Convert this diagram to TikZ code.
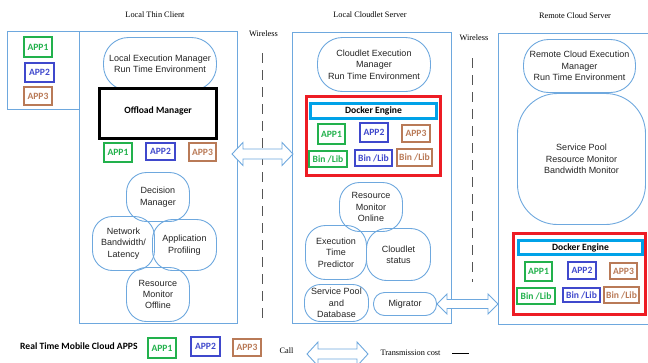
\documentclass[tikz,border=0pt]{standalone}
\usepackage{fontspec}
\setmainfont{Liberation Serif}
\newfontfamily\arialf{Liberation Sans}
\newfontfamily\calf{Carlito}
\definecolor{lblue}{RGB}{110,168,222}
\definecolor{agreen}{RGB}{34,177,76}
\definecolor{ablue}{RGB}{63,72,204}
\definecolor{abrown}{RGB}{185,122,87}
\definecolor{ared}{RGB}{237,28,36}
\definecolor{acyan}{RGB}{0,162,232}
\definecolor{txt}{RGB}{35,35,35}
\definecolor{dgray}{RGB}{85,85,85}
\begin{document}
\begin{tikzpicture}[x=1pt,y=-1pt,
  sz/.style 2 args={minimum width=#1pt, minimum height=#2pt},
  frame/.style={draw=lblue, line width=0.9pt},
  soft/.style={draw=lblue, line width=0.9pt, align=center, inner sep=1pt, text=txt,
               font=\arialf\fontsize{9}{11.4}\selectfont},
  appbox/.style={draw=#1, text=#1, line width=2pt, inner sep=0pt,
               font=\calf\bfseries\fontsize{9.6}{10}\selectfont},
  title/.style={font=\fontsize{8.3}{10}\selectfont, text=black, inner sep=0pt},
  wire/.style={draw=dgray, line width=1pt, dash pattern=on 10pt off 7pt},
  dbl/.style={draw=lblue, line width=0.9pt, fill=white, line join=miter},
  boldlbl/.style={font=\calf\bfseries\fontsize{9.6}{10}\selectfont, inner sep=0pt}
]
\useasboundingbox (0,0) rectangle (648,362);

% titles
\node[title] (t1) at (155,15) {Local Thin Client};
\node[title] (t2) at (370,15) {Local Cloudlet Server};
\node[title] (t3) at (575,16) {Remote Cloud Server};
\node[title] (w1) at (263.5,34) {Wireless};
\node[title] (w2) at (474,38) {Wireless};

% outer frames
\draw[frame] (7,31) rectangle (79,109);
\draw[frame] (79,31) rectangle (237,323);
\draw[frame] (292,32) rectangle (451,323);
\draw[frame] (652,33) -- (498,33) -- (498,324) -- (652,324);

% wireless dashed lines
\coordinate (d1a) at (262,53);
\coordinate (d1b) at (262,322);
\coordinate (d2a) at (472,58);
\coordinate (d2b) at (472,282);
\draw[wire] (d1a) -- (d1b);
\draw[wire] (d2a) -- (d2b);

% left small box apps
\node[appbox=agreen, sz={28}{20}] (la1) at (38,47) {APP1};
\node[appbox=ablue, sz={29}{19}] (la2) at (39.5,72.5) {APP2};
\node[appbox=abrown, sz={28}{18}] (la3) at (38,96) {APP3};

% local thin client
\node[soft, rounded corners=25pt, sz={113}{53}] (lem) at (160,64) {Local Execution Manager\\Run Time Environment};
\node[draw=black, line width=3pt, fill=white, sz={117}{50}, inner sep=0pt,
      font=\calf\bfseries\fontsize{9.6}{10}\selectfont] (off) at (158,113.5) {\raisebox{6pt}{Offload Manager}};
\node[appbox=agreen, sz={28}{19}] (ca1) at (118,152.5) {APP1};
\node[appbox=ablue, sz={29}{17}] (ca2) at (160.5,151.5) {APP2};
\node[appbox=abrown, sz={27}{18}] (ca3) at (202.5,152) {APP3};
\node[soft, rounded corners=20pt, sz={63}{49}] (dec) at (158,197) {Decision\\Manager};
\node[soft, rounded corners=20pt, sz={62}{54}] (net) at (123.5,243.5) {Network\\Bandwidth/\\Latency};
\node[soft, rounded corners=20pt, sz={64}{51}] (apf) at (184.5,245) {Application\\Profiling};
\node[soft, rounded corners=20pt, sz={63}{54}] (rmf) at (158,294.5) {Resource\\Monitor\\Offline};

% local cloudlet server
\node[soft, rounded corners=25pt, sz={113}{54}] (cem) at (374,64.5) {Cloudlet Execution\\Manager\\Run Time Environment};
\node[draw=ared, line width=3pt, sz={134}{79}, inner sep=0pt] (red1) at (373.5,136) {};
\node[draw=acyan, line width=3pt, sz={126}{15}, inner sep=0pt,
      font=\calf\bfseries\fontsize{9.6}{10}\selectfont] (dk1) at (373.5,111) {Docker Engine};
\node[appbox=agreen, sz={27}{20}] (ka1) at (331.5,134) {APP1};
\node[appbox=ablue, sz={28}{19}] (ka2) at (374,132.5) {APP2};
\node[appbox=abrown, sz={28}{17}] (ka3) at (416,133.5) {APP3};
\node[appbox=agreen, sz={38}{16}] (kb1) at (328,159) {Bin /Lib};
\node[appbox=ablue, sz={37}{16}] (kb2) at (373.5,158) {Bin /Lib};
\node[appbox=abrown, sz={35}{17}] (kb3) at (414.5,157.5) {Bin /Lib};
\node[soft, rounded corners=20pt, sz={63}{49}] (rmo) at (371,207) {Resource\\Monitor\\Online};
\node[soft, rounded corners=20pt, sz={61}{54}] (etp) at (336,252.5) {Execution\\Time\\Predictor};
\node[soft, rounded corners=20pt, sz={64}{52}] (cst) at (398.5,254.5) {Cloudlet\\status};
\node[soft, rounded corners=16pt, sz={64}{37}] (spd) at (336.5,303) {Service Pool\\and\\Database};
\node[soft, rounded corners=11pt, sz={63}{23}] (mig) at (405,304) {Migrator};

% remote cloud server
\node[soft, rounded corners=25pt, sz={112}{53}] (rcem) at (579.5,66) {Remote Cloud Execution\\Manager\\Run Time Environment};
\node[soft, rounded corners=40pt, sz={128}{131}] (spool) at (581.5,159) {Service Pool\\Resource Monitor\\Bandwidth Monitor};
\node[draw=ared, line width=3pt, sz={132}{81}, inner sep=0pt] (red2) at (579.5,274) {};
\node[draw=acyan, line width=3pt, sz={124}{14}, inner sep=0pt,
      font=\calf\bfseries\fontsize{9.6}{10}\selectfont] (dk2) at (580.5,247.5) {Docker Engine};
\node[appbox=agreen, sz={27}{19}] (ra1) at (538.5,271.5) {APP1};
\node[appbox=ablue, sz={28}{17}] (ra2) at (582,270.5) {APP2};
\node[appbox=abrown, sz={27}{16}] (ra3) at (623.5,271) {APP3};
\node[appbox=agreen, sz={38}{16}] (rb1) at (536,296) {Bin /Lib};
\node[appbox=ablue, sz={37}{14}] (rb2) at (581.5,295) {Bin /Lib};
\node[appbox=abrown, sz={35}{16}] (rb3) at (621.5,295) {Bin /Lib};

% double arrows
\coordinate (a1L) at (232,154);
\coordinate (a1R) at (293,154);
\draw[dbl] (a1L) -- ++(11,-11.5) -- ++(0,6.5) -- ++(39,0) -- ++(0,-6.5) -- (a1R)
  -- ++(-11,11.5) -- ++(0,-6.5) -- ++(-39,0) -- ++(0,6.5) -- cycle;
\coordinate (a2L) at (mig.east);
\coordinate (a2R) at (498,304);
\draw[dbl] (a2L) -- ++(10,-10) -- ++(0,5.5) -- ++(41,0) -- ++(0,-5.5) -- (a2R)
  -- ++(-10,10) -- ++(0,-5.5) -- ++(-41,0) -- ++(0,5.5) -- cycle;

% legend
\node[boldlbl, anchor=west] (leg) at (20,346) {Real Time Mobile Cloud APPS};
\node[appbox=agreen, sz={28}{20}] (ga1) at (162,348) {APP1};
\node[appbox=ablue, sz={29}{19}] (ga2) at (205.5,346.5) {APP2};
\node[appbox=abrown, sz={28}{17}] (ga3) at (247,347.5) {APP3};
\node[title] (call) at (286.5,351) {Call};
\coordinate (a3L) at (307,354);
\coordinate (a3R) at (368,354);
\draw[dbl] (a3L) -- ++(11,-12) -- ++(0,7) -- ++(39,0) -- ++(0,-7) -- (a3R)
  -- ++(-11,12) -- ++(0,-7) -- ++(-39,0) -- ++(0,7) -- cycle;
\node[title] (tc) at (410.5,353) {Transmission cost};
\coordinate (l1) at (452,353);
\coordinate (l2) at (469,353);
\draw[black, line width=0.8pt] (l1) -- (l2);
\end{tikzpicture}
\end{document}
